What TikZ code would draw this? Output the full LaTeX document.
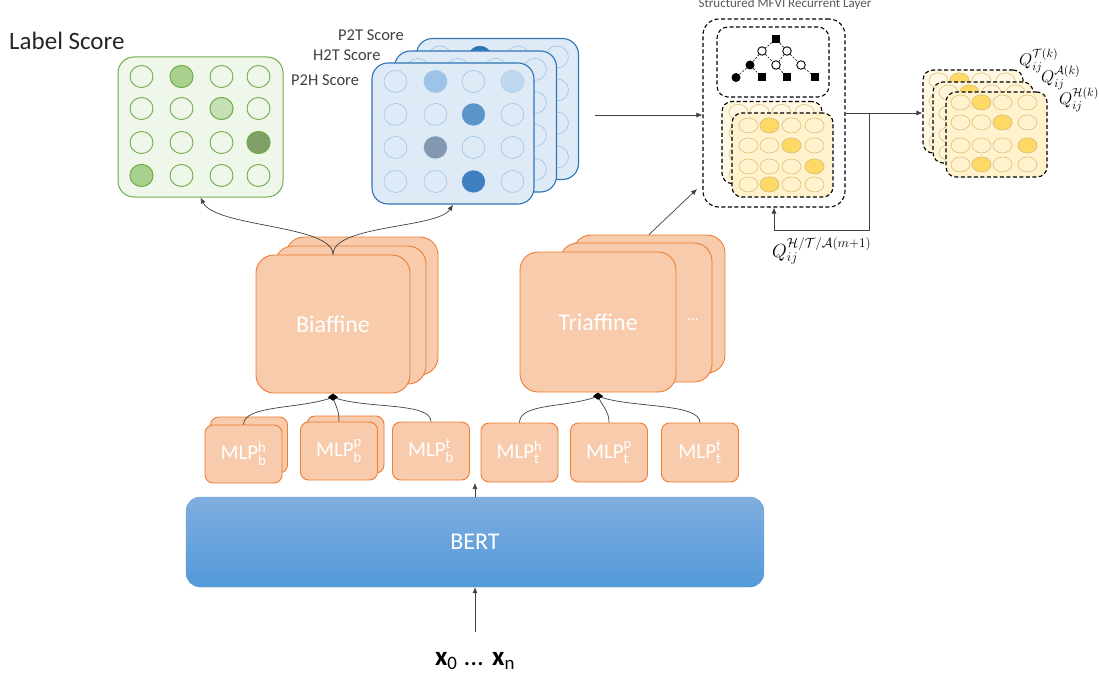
\RequirePackage{fix-cm}
\documentclass[tikz,border=0pt]{standalone}
\usepackage{amsmath}
\usepackage{fontspec}
\setmainfont{Carlito}
\usetikzlibrary{arrows.meta,shapes.geometric,calc}

\definecolor{orangeF}{HTML}{F8CBAD}
\definecolor{orangeB}{HTML}{ED7D31}
\definecolor{greenF}{HTML}{EFF6EA}
\definecolor{greenB}{HTML}{70AD47}
\definecolor{gfillA}{HTML}{A9D18E}
\definecolor{gfillB}{HTML}{C5E0B4}
\definecolor{gfillC}{HTML}{7F9F66}
\definecolor{blueF}{HTML}{DEEBF7}
\definecolor{blueB}{HTML}{2E75B6}
\definecolor{blueC}{HTML}{9DC3E6}
\definecolor{bfillA}{HTML}{9DC3E6}
\definecolor{bfillB}{HTML}{BDD7EE}
\definecolor{bfillC}{HTML}{5B95C9}
\definecolor{bfillD}{HTML}{8497B0}
\definecolor{bfillE}{HTML}{3F7FBF}
\definecolor{yellowF}{HTML}{FFF2CC}
\definecolor{yellowD}{HTML}{FFD966}
\definecolor{yellowO}{HTML}{D9C27E}
\definecolor{lineGray}{HTML}{404040}
\definecolor{bertTop}{HTML}{80AEE0}
\definecolor{bertBot}{HTML}{5399DA}
\definecolor{txtGray}{HTML}{404040}

\newcommand{\dotrx}{11.5pt}
\newcommand{\dotry}{11pt}
\newcommand{\dotgrid}[4]{\begin{scope}[shift={(#1.north west)}]\foreach \gx in {#2}{\foreach \gy in {#3}{\path[#4] (\gx,\gy) ellipse [x radius=\dotrx, y radius=\dotry];}}\end{scope}}
\newcommand{\dotone}[4]{\begin{scope}[shift={(#1.north west)}]\path[#4] (#2,#3) ellipse [x radius=\dotrx, y radius=\dotry];\end{scope}}

\tikzset{
  conn/.style={draw=lineGray, line width=0.7pt},
  arr/.style={conn, -{Latex[length=6pt,width=5pt]}},
  obox/.style={draw=orangeB, fill=orangeF, line width=0.9pt, rounded corners=18pt, inner sep=0pt, text=white},
  mlpbox/.style={obox, rounded corners=8pt, minimum width=77, minimum height=58, font=\fontsize{21}{24}\selectfont},
  gbox/.style={draw=greenB, fill=greenF, line width=1pt, rounded corners=16pt, inner sep=0pt},
  bbox/.style={draw=blueB, fill=blueF, line width=1.1pt, rounded corners=16pt, inner sep=0pt, minimum width=162, minimum height=141},
  dbox/.style={draw=black, line width=1.1pt, dash pattern=on 4pt off 2.5pt, inner sep=0pt},
  ybox/.style={dbox, fill=yellowF, rounded corners=10pt, minimum width=101, minimum height=85},
  ybackbox/.style={ybox, fill=yellowF!55!white},
  gdot/.style={draw=greenB, line width=0.9pt},
  bdot/.style={draw=blueC, line width=0.6pt},
  ydot/.style={draw=yellowO, line width=0.6pt},
  joinpt/.style={diamond, fill=black, inner sep=0pt, minimum width=10, minimum height=7},
  tsq/.style={rectangle, fill=black, minimum size=8, inner sep=0pt},
  tbc/.style={circle, fill=black, minimum size=9, inner sep=0pt},
  toc/.style={circle, draw=black, fill=white, line width=0.9pt, minimum size=8.5, inner sep=0pt},
  tedge/.style={draw=black, line width=0.6pt, dash pattern=on 2pt off 1.5pt},
  lbl/.style={inner sep=0pt, text=txtGray}
}

\begin{document}
\begin{tikzpicture}[x=1pt,y=-1pt]
\useasboundingbox (0,0) rectangle (1099,682);
\fill[white] (0,0) rectangle (1099,682);

% ---------- Label Score (green) ----------
\node[lbl, anchor=base west, text=black!85, font=\fontsize{25}{28}\selectfont] (lstitle) at (9,50) {Label Score};
\node[gbox, minimum width=165, minimum height=140] (lab) at (200.5,127) {};
\renewcommand{\dotrx}{11.5pt}\renewcommand{\dotry}{11pt}
\dotgrid{lab}{24,64,104,141}{20,52,86,119}{gdot}
\dotone{lab}{64}{20}{gdot, fill=gfillA}
\dotone{lab}{104}{52}{gdot, fill=gfillB}
\dotone{lab}{141}{86}{gdot, fill=gfillC}
\dotone{lab}{24}{119}{gdot, fill=gfillA}

% ---------- blue score stack ----------
\node[bbox] (bback) at (497.5,109) {};
\dotgrid{bback}{24,64,102,141}{19,52,85,119}{bdot}
\dotone{bback}{64}{19}{fill=blueB}
\node[bbox] (bmid) at (475.5,121.5) {};
\dotgrid{bmid}{24,64,102,141}{19,52,85,119}{bdot}
\node[bbox] (bfront) at (453,133.5) {};
\dotgrid{bfront}{24,64,102,141}{19,52,85,119}{bdot}
\dotone{bfront}{64}{19}{fill=bfillA}
\dotone{bfront}{141}{19}{fill=bfillB}
\dotone{bfront}{102}{52}{fill=bfillC}
\dotone{bfront}{64}{85}{fill=bfillD}
\dotone{bfront}{102}{119}{fill=bfillE}
\node[lbl, anchor=base west, font=\fontsize{16.5}{19}\selectfont] (p2t) at (338,41) {P2T Score};
\node[lbl, anchor=base west, font=\fontsize{16.5}{19}\selectfont] (h2t) at (313,61) {H2T Score};
\node[lbl, anchor=base west, font=\fontsize{16.5}{19}\selectfont] (p2h) at (291,86) {P2H Score};

% ---------- MFVI layer ----------
\node[lbl, anchor=base, text=black!65, font=\fontsize{13}{15}\selectfont] (mtitle) at (785,8) {Structured MFVI Recurrent Layer};
\node[dbox, rounded corners=16pt, minimum width=142, minimum height=188] (mfvi) at (774,113) {};
\node[dbox, rounded corners=11pt, minimum width=112, minimum height=70] (tree) at (773,62) {};
\node[tsq] (tr) at (776,39) {};
\node[toc] (tc1) at (762,51) {};
\node[toc] (tc2) at (787,51) {};
\node[tbc] (tb1) at (750,65) {};
\node[toc] (tc3) at (776,65) {};
\node[toc] (tc4) at (801,65) {};
\node[tbc] (tb2) at (736,77.5) {};
\node[tsq] (ts1) at (762,77.5) {};
\node[tsq] (ts2) at (787,77.5) {};
\node[tsq] (ts3) at (815,77.5) {};
\draw[tedge] (tr) -- (tc1);
\draw[tedge] (tr) -- (tc2);
\draw[tedge] (tc1) -- (tb1);
\draw[tedge] (tc1) -- (tc3);
\draw[tedge] (tc2) -- (tc3);
\draw[tedge] (tc2) -- (tc4);
\draw[tedge] (tb1) -- (tb2);
\draw[tedge] (tb1) -- (ts1);
\draw[tedge] (tc3) -- (ts2);
\draw[tedge] (tc4) -- (ts3);

\renewcommand{\dotrx}{9.5pt}\renewcommand{\dotry}{7.5pt}
\node[ybackbox, minimum width=100, minimum height=82] (mback) at (772,142.5) {};
\dotgrid{mback}{17,38,60,83}{11,32,53,73}{ydot}
\node[ybox, minimum height=84] (mfront) at (782.5,155) {};
\dotgrid{mfront}{17,38,60,83}{13,33,54,72}{ydot}
\dotone{mfront}{38}{13}{ydot, fill=yellowD}
\dotone{mfront}{60}{33}{ydot, fill=yellowD}
\dotone{mfront}{83}{54}{ydot, fill=yellowD}
\dotone{mfront}{38}{72}{ydot, fill=yellowD}

% ---------- Q output stack ----------
\node[ybackbox, minimum width=100, minimum height=83] (qback) at (973,111.5) {};
\dotgrid{qback}{16,37,59,83}{11,32,53,72}{ydot}
\dotone{qback}{37}{11}{ydot, fill=yellowD}
\node[ybackbox, fill=yellowF!75!white, minimum width=100, minimum height=81] (qmid) at (983,122.5) {};
\dotgrid{qmid}{16,37,59,83}{11,32,53,71}{ydot}
\dotone{qmid}{37}{11}{ydot, fill=yellowD}
\node[ybox, minimum height=85] (qfront) at (996.5,134.5) {};
\dotgrid{qfront}{15,36,57,82}{11,31,54,73}{ydot}
\dotone{qfront}{36}{11}{ydot, fill=yellowD}
\dotone{qfront}{57}{31}{ydot, fill=yellowD}
\dotone{qfront}{82}{54}{ydot, fill=yellowD}
\dotone{qfront}{36}{73}{ydot, fill=yellowD}
\node[inner sep=0pt, anchor=base west, font=\fontsize{17}{20}\selectfont] (qt) at (1019,66) {$Q_{ij}^{\mathcal{T}(k)}$};
\node[inner sep=0pt, anchor=base west, font=\fontsize{17}{20}\selectfont] (qa) at (1041,83) {$Q_{ij}^{\mathcal{A}(k)}$};
\node[inner sep=0pt, anchor=base west, font=\fontsize{17}{20}\selectfont] (qh) at (1059,105) {$Q_{ij}^{\mathcal{H}(k)}$};
\node[inner sep=0pt, anchor=base west, font=\fontsize{19}{22}\selectfont] (qm) at (772,257) {$Q_{ij}^{\mathcal{H}/\mathcal{T}/\mathcal{A}(m+1)}$};

% ---------- Biaffine / Triaffine ----------
\node[obox, minimum width=152, minimum height=138] (biback) at (362,306) {};
\node[obox, minimum width=151, minimum height=138] (bimid) at (350.5,315) {};
\node[obox, minimum width=154, minimum height=138, font=\fontsize{24}{28}\selectfont] (bifront) at (333,324) {Biaffine};
\node[obox, minimum width=152, minimum height=138] (triback) at (649,304) {};
\node[obox, minimum width=152, minimum height=139] (trimid) at (636,312.5) {};
\node[obox, minimum width=156, minimum height=140, font=\fontsize{24}{28}\selectfont] (trifront) at (598,322) {Triaffine};
\node[inner sep=0pt, text=white, font=\fontsize{15}{16}\selectfont] (tridots) at (693,320) {...};

% ---------- MLP boxes ----------
\node[mlpbox, minimum height=56] (mbhb) at (249,445) {};
\node[mlpbox] (mbh) at (243.5,454) {MLP$_{\text{b}}^{\text{h}}$};
\node[mlpbox, minimum height=57] (mbpb) at (345.5,444.5) {};
\node[mlpbox] (mbp) at (339,451) {MLP$_{\text{b}}^{\text{p}}$};
\node[mlpbox] (mbt) at (431,451) {MLP$_{\text{b}}^{\text{t}}$};
\node[mlpbox, minimum height=59] (mth) at (519.5,452.5) {MLP$_{\text{t}}^{\text{h}}$};
\node[mlpbox, minimum height=59] (mtp) at (609,452.5) {MLP$_{\text{t}}^{\text{p}}$};
\node[mlpbox, minimum height=59] (mtt) at (700,452.5) {MLP$_{\text{t}}^{\text{t}}$};

% join points
\node[joinpt, anchor=north] (bj) at (bifront.south) {};
\node[joinpt, anchor=north] (tj) at (trifront.south) {};
\draw[conn] (mbh.north) .. controls +(0,-20) and +(-30,12) .. (bj.center);
\draw[conn] (mbp.north) .. controls +(0,-12) and +(3,10) .. (bj.center);
\draw[conn] (mbt.north) .. controls +(0,-20) and +(30,12) .. (bj.center);
\draw[conn] (mth.north) .. controls +(0,-20) and +(-30,12) .. (tj.center);
\draw[conn] (mtp.north) .. controls +(0,-12) and +(4,10) .. (tj.center);
\draw[conn] (mtt.north) .. controls +(0,-20) and +(30,12) .. (tj.center);
\node[joinpt, anchor=north] at (bifront.south) {};
\node[joinpt, anchor=north] at (trifront.south) {};

% ---------- BERT ----------
\node[draw=bertTop!90!black, line width=0.3pt, top color=bertTop, bottom color=bertBot, rounded corners=14pt, minimum width=578, minimum height=90, inner sep=0pt, text=white, font=\fontsize{24}{28}\selectfont] (bert) at (475,542) {BERT};
\coordinate (bup) at (475,483);
\draw[arr] (bert.north) -- (bup);
\node[inner sep=0pt, font=\fontsize{27}{30}\selectfont] (xin) at (475,661) {\textbf{x}\textsubscript{0} ... \textbf{x}\textsubscript{n}};
\coordinate (xup) at (475,632);
\draw[arr] (xup) -- (bert.south);

% ---------- score connectors ----------
\draw[arr] (bifront.north) .. controls +(0,-30) and +(15,30) .. (lab.south);
\draw[arr] (bifront.north) .. controls +(0,-30) and +(-15,24) .. (bfront.south);

% ---------- to MFVI ----------
\coordinate (bs) at (595,115);
\draw[arr] (bs) -- (bs -| mfvi.west);
\coordinate (te) at (697,189);
\draw[arr] (triback.north) -- (te);
\coordinate (jn) at (869,113);
\coordinate (fb) at (869,230);
\draw[conn] (mfvi.east |- jn) -- (jn);
\draw[arr] (jn) -- (jn -| qback.west);
\draw[arr] (jn) -- (fb) -| (mfvi.south);
\end{tikzpicture}
\end{document}
